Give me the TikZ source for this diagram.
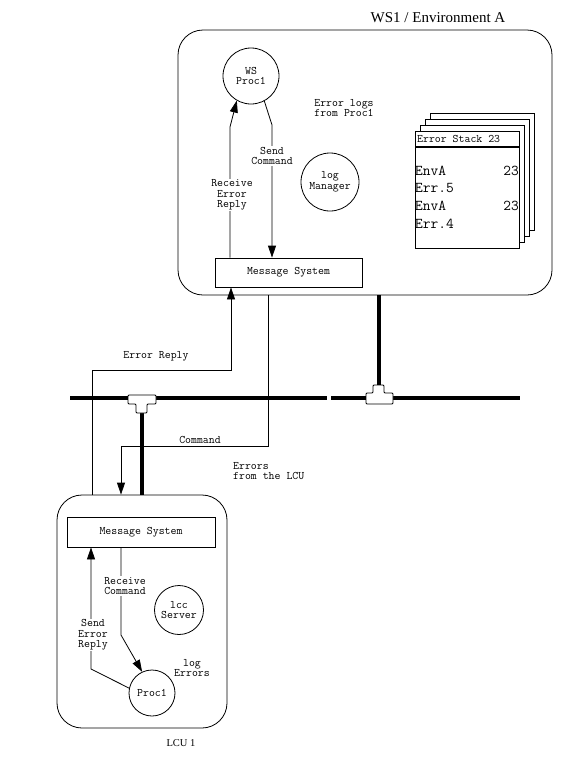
\documentclass[tikz,border=0pt]{standalone}
\usepackage{fontspec}
\setmainfont{Liberation Serif}
\usetikzlibrary{positioning, arrows.meta}

\begin{document}
\begin{tikzpicture}[x=1pt, y=-1pt,
    ambiente/.style={draw, rounded corners=25pt, line width=0.8pt},
    mensagem/.style={draw, line width=0.8pt, font=\ttfamily\fontsize{11.5}{10.5}\selectfont},
    processo/.style={draw, circle, line width=0.8pt, inner sep=0pt, align=center, font=\ttfamily\fontsize{11.5}{10.5}\selectfont},
    seta/.style={-{Triangle[length=12pt, width=8pt]}, line width=0.8pt},
    rot/.style={font=\ttfamily\fontsize{11.5}{10.5}\selectfont, align=center, inner sep=1pt},
    corte/.style={rot, fill=white},
    linha/.style={font=\ttfamily\fontsize{15}{15}\selectfont, inner sep=0pt},
    folha/.style={draw, fill=white, line width=0.8pt},
    barra/.style={line width=4pt},
    junta/.style={draw, fill=white, line width=0.8pt, rounded corners=1pt}
]
\useasboundingbox (0,0) rectangle (586,766);

% ambientes
\node[ambiente, minimum width=374pt, minimum height=265pt] (ws) at (365,162.5) {};
\node[ambiente, minimum width=170pt, minimum height=233pt] (lcu) at (142,611.5) {};
\node[font=\fontsize{15}{17}\selectfont] (tituloWS) at (438,18) {WS1 / Environment A};
\node[font=\fontsize{10.5}{12}\selectfont] (tituloLCU) at (181,743) {LCU 1};

% WS1
\node[processo, minimum size=56pt] (wsproc) at (251,76) {WS\\Proc1};
\node[processo, minimum size=58pt] (logman) at (330,182) {log\\Manager};
\node[mensagem, minimum width=147pt, minimum height=29pt] (msgA) at (288.5,272.5) {Message System};
\node[rot] (errlogs) at (344,108) {Error logs\\from Proc1};

% pilha de erros
\foreach \k in {3,2,1}
  \draw[folha] (415+5*\k,131-6*\k) rectangle ++(104,117);
\node[folha, minimum width=104pt, minimum height=117pt] (pilha) at (467,189.5) {};
\coordinate (cab) at (415,147);
\draw[line width=1.5pt] (cab) -- (cab -| pilha.east);
\node[rot, anchor=west] (titpilha) at (416,139) {Error Stack 23};
\foreach \txt [count=\i] in {EnvA, Err.5, EnvA, Err.4}
  \node[linha, anchor=west] at (415,153+17.7*\i) {\txt};
\foreach \yy in {171,206}
  \node[linha, anchor=east] at (519,\yy) {23};

% LCU 1
\node[mensagem, minimum width=148pt, minimum height=30pt] (msgB) at (141,532) {Message System};
\node[processo, minimum size=46pt] (proc1) at (152,693) {Proc1};
\node[processo, minimum size=49pt] (lcc) at (179,610) {lcc\\Server};

% setas internas
\coordinate (rer) at (230,127);
\coordinate (sc) at (272,125);
\draw[seta] (rer |- msgA.north) -- (rer) -- (wsproc.-120);
\draw[seta] (wsproc.-62) -- (sc) -- (sc |- msgA.north);
\coordinate (rc) at (121,635);
\coordinate (ser) at (91,669);
\draw[seta] (rc |- msgB.south) -- (rc) -- (proc1.115);
\draw[seta] (proc1.168) -- (ser) -- (ser |- msgB.south);

% setas entre ambientes
\coordinate (erA) at (92,370);
\coordinate (erB) at (231,370);
\coordinate (cmA) at (268,446);
\coordinate (cmB) at (121,446);
\draw[seta] (erA |- lcu.north) -- (erA) -- (erB) -- (erB |- msgA.south);
\draw[seta] (cmA |- ws.south) -- (cmA) -- (cmB) -- (cmB |- lcu.north);

% rede
\coordinate (busL) at (70,398);
\coordinate (busM1) at (327,398);
\coordinate (busM2) at (331,398);
\coordinate (busR) at (520,398);
\coordinate (tA) at (141.5,413);
\coordinate (tB) at (378.5,385);
\draw[barra] (busL) -- (busM1);
\draw[barra] (busM2) -- (busR);
\draw[barra] (tA) -- (tA |- lcu.north);
\draw[barra] (ws.south -| tB) -- (tB);
\draw[junta] (128,395) -- (156,395) -- (156,404) -- (147,404) -- (147,413)
  -- (136,413) -- (136,404) -- (128,404) -- cycle;
\draw[junta] (373,385) -- (384,385) -- (384,393) -- (393,393) -- (393,404)
  -- (366,404) -- (366,393) -- (373,393) -- cycle;

% rotulos
\node[corte] (lblRER) at (232,195) {Receive\\Error\\Reply};
\node[corte] (lblSC) at (272,156) {Send\\Command};
\node[corte] (lblRC) at (125,586) {Receive\\Command};
\node[corte] (lblSER) at (93,635) {Send\\Error\\Reply};
\node[rot] (lblER) at (156,356) {Error Reply};
\node[rot] (lblCmd) at (200,440) {Command};
\node[rot, align=left, anchor=west] (lblErrs) at (232,471) {Errors\\from the LCU};
\node[rot] (lblLog) at (192,668) {log\\Errors};
\end{tikzpicture}
\end{document}
